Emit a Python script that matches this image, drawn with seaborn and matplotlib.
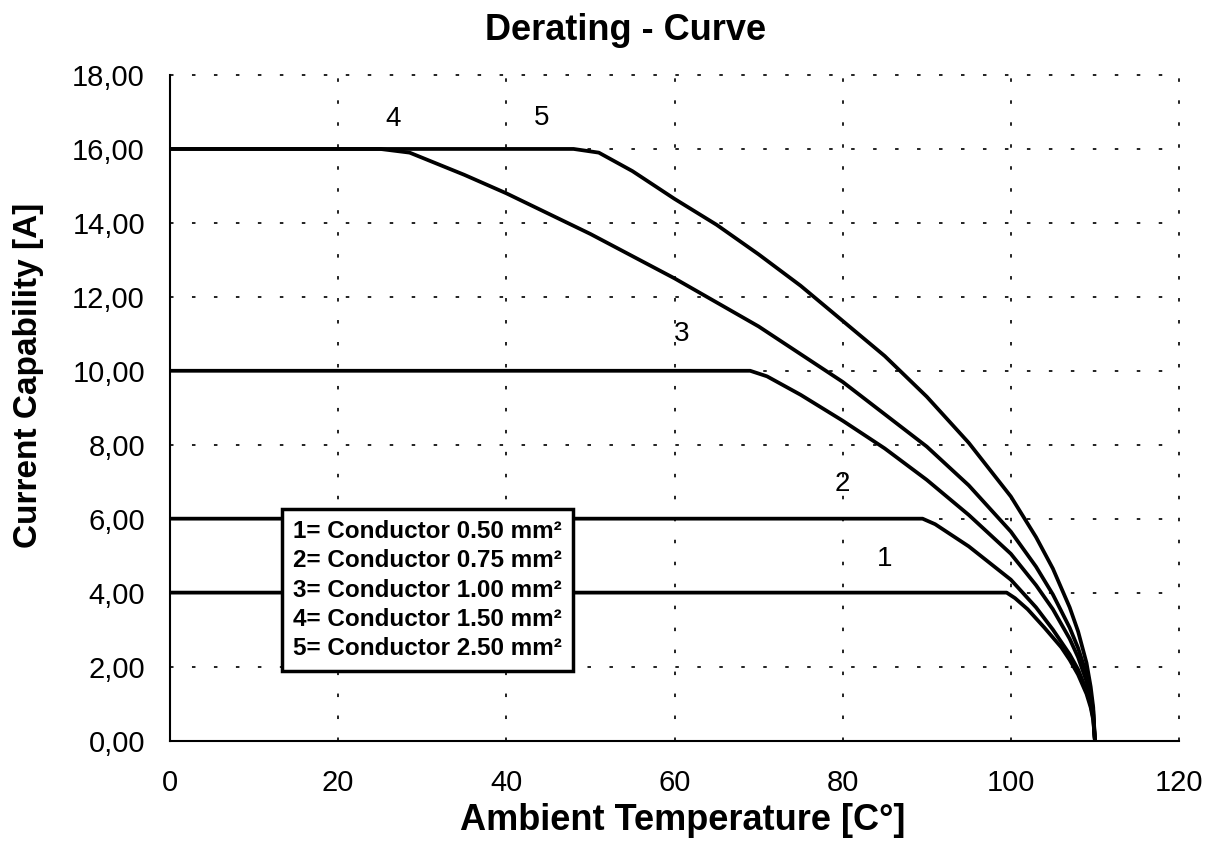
import numpy as np
import pandas as pd
import matplotlib
matplotlib.use("Agg")
import matplotlib.pyplot as plt
from matplotlib.ticker import MultipleLocator, FuncFormatter
import seaborn as sns

# ---------------- data ----------------
curve_ids = ["1", "2", "3", "4", "5"]
cross_sections = ["0.50", "0.75", "1.00", "1.50", "2.50"]

temp_1 = [0, 99.5, 100.5, 102, 104, 106, 107, 108, 109, 109.5, 109.8, 110]
curr_1 = [4, 4, 3.85, 3.55, 3.05, 2.52, 2.18, 1.78, 1.26, 0.89, 0.55, 0]

temp_2 = [0, 89.5, 91, 95, 100, 103, 105, 107, 108, 109, 109.5, 109.8, 110]
curr_2 = [6, 6, 5.85, 5.25, 4.35, 3.6, 3.0, 2.33, 1.92, 1.36, 0.96, 0.6, 0]

temp_3 = [0, 69, 71, 75, 80, 85, 90, 95, 100, 103, 105, 107, 108, 109, 109.5, 109.8, 110]
curr_3 = [10, 10, 9.85, 9.35, 8.65, 7.9, 7.05, 6.1, 5.05, 4.2, 3.55, 2.75, 2.25, 1.6, 1.12, 0.7, 0]

temp_4 = [0, 25, 28.5, 35, 40, 50, 60, 70, 80, 90, 95, 100, 103, 105, 107, 108, 109, 109.5, 109.8, 110]
curr_4 = [16, 16, 15.9, 15.3, 14.8, 13.7, 12.5, 11.2, 9.7, 7.95, 6.9, 5.65, 4.7, 3.95, 3.05, 2.5, 1.8, 1.25, 0.8, 0]

temp_5 = [0, 48, 51, 55, 60, 65, 70, 75, 80, 85, 90, 95, 100, 103, 105, 107, 108, 109, 109.5, 109.8, 110]
curr_5 = [16, 16, 15.9, 15.4, 14.65, 13.95, 13.15, 12.3, 11.35, 10.4, 9.3, 8.05, 6.6, 5.5, 4.65, 3.6, 2.95, 2.1, 1.45, 0.9, 0]

# positions of the curve number annotations (data coords)
label_x = [85.0, 80.0, 60.8, 26.5, 44.2]
label_y = [4.9, 6.95, 11.0, 16.82, 16.85]

x_ticks = [0, 20, 40, 60, 80, 100, 120]
y_ticks = [0, 2, 4, 6, 8, 10, 12, 14, 16, 18]

title = "Derating - Curve"
x_title = "Ambient Temperature [C°]"
y_title = "Current Capability [A]"

# ---------------- build long-form table ----------------
temps = [temp_1, temp_2, temp_3, temp_4, temp_5]
currs = [curr_1, curr_2, curr_3, curr_4, curr_5]
frames = []
for cid, t, c in zip(curve_ids, temps, currs):
    frames.append(pd.DataFrame({"T": t, "I": c, "curve": cid}))
df = pd.concat(frames, ignore_index=True)

# ---------------- style ----------------
sns.set_style("white")
plt.rcParams["font.family"] = ["Liberation Sans", "DejaVu Sans"]
plt.rcParams["text.color"] = "black"
plt.rcParams["axes.labelcolor"] = "black"
plt.rcParams["xtick.color"] = "black"
plt.rcParams["ytick.color"] = "black"

W, H = 1218, 843
fig = plt.figure(figsize=(W / 100, H / 100), dpi=100)
x0, x1 = 170, 1179
y_top, y_bot = 75, 740.5
ax = fig.add_axes([x0 / W, (H - y_bot) / H, (x1 - x0) / W, (y_bot - y_top) / H])

sns.lineplot(data=df, x="T", y="I", hue="curve", palette=["black"] * 5,
             sort=False, estimator=None, legend=False, linewidth=2.7, ax=ax,
             zorder=3)
for ln in ax.get_lines():
    ln.set_solid_joinstyle("round")

ax.set_xlim(0, 120)
ax.set_ylim(0, 18)
ax.set_xticks(x_ticks)
ax.set_yticks(y_ticks)
ax.xaxis.set_minor_locator(MultipleLocator(4))
ax.yaxis.set_minor_locator(MultipleLocator(0.4))
ax.yaxis.set_major_formatter(FuncFormatter(lambda v, p: f"{v:.2f}".replace(".", ",")))
ax.xaxis.set_major_formatter(FuncFormatter(lambda v, p: f"{int(v)}"))

for s in ["top", "right"]:
    ax.spines[s].set_visible(False)
for s in ["left", "bottom"]:
    ax.spines[s].set_linewidth(1.5)
    ax.spines[s].set_color("black")

ax.tick_params(axis="x", which="major", direction="inout", length=11, width=1.4,
               labelsize=21, pad=15, colors="black")
ax.tick_params(axis="x", which="minor", direction="out", length=5, width=1.3)
ax.tick_params(axis="y", which="major", direction="out", length=8, width=1.4,
               labelsize=21, pad=10, colors="black")
ax.tick_params(axis="y", which="minor", direction="out", length=5, width=1.3)

ax.grid(True, which="major", color="#222222", linewidth=1.4,
        linestyle=(0, (1.8, 9.5)))
for gl in ax.get_xgridlines() + ax.get_ygridlines():
    gl.set_clip_on(False)

# curve number annotations
for cid, lx, ly in zip(curve_ids, label_x, label_y):
    ax.text(lx, ly, cid, fontsize=20, ha="center", va="center", color="black")

# legend box
legend_text = "\n".join(f"{cid}= Conductor {cs} mm²" for cid, cs in zip(curve_ids, cross_sections))
ax.text(14.6, 4.07, legend_text, fontsize=17.5, fontweight="bold", ha="left", va="center",
        linespacing=1.36, zorder=5, color="black",
        bbox=dict(boxstyle="square,pad=0.45", facecolor="white", edgecolor="black", linewidth=2.5))

# titles
fig.text(626 / W, 1 - 30 / H, title, fontsize=26, fontweight="bold", ha="center", va="center",
         color="black")
ax.set_xlabel(x_title, fontsize=26, fontweight="bold", color="black")
ax.xaxis.set_label_coords((683 - x0) / (x1 - x0), (y_bot - 820) / (y_bot - y_top))
ax.xaxis.label.set_va("center")
ax.set_ylabel(y_title, fontsize=24, fontweight="bold", color="black")
ax.yaxis.set_label_coords((29 - x0) / (x1 - x0), (y_bot - 375) / (y_bot - y_top))
ax.yaxis.label.set_va("center")
ax.yaxis.label.set_ha("center")

fig.savefig("out.png", dpi=100, facecolor="white")
